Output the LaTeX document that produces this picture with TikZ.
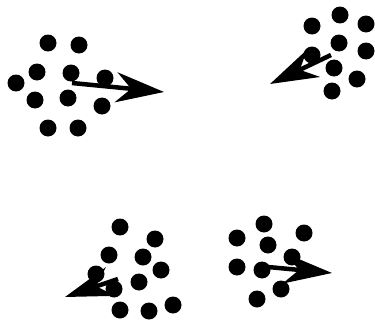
\documentclass[tikz,border=0pt]{standalone}
\usetikzlibrary{arrows.meta}
\begin{document}
\begin{tikzpicture}[x=1pt,y=-1pt,
  dot/.style={circle,fill=black,inner sep=0pt,minimum size=17pt},
  vec/.style={line width=4.5pt,-{Stealth[length=48pt,width=30pt,inset=15pt]}}]
\useasboundingbox (0,0) rectangle (375,324);
% group A (top left)
\foreach \n/\x/\y in {a1/48/43,a2/79/45,a3/37/72,a4/71/73,a5/105/78,a6/16/83,a7/35/100,a8/68/98,a9/102/106,a10/48/128,a11/78/128}
  \node[dot] (\n) at (\x,\y) {};
\coordinate (at) at (72,83);
\coordinate (ah) at (164,92);
\draw[vec] (at) -- (ah);
% group B (top right)
\foreach \n/\x/\y in {b1/340/15,b2/312/26,b3/366/24,b4/339/43,b5/312/55,b6/366/51,b7/334/68,b8/357/79,b9/332/91}
  \node[dot] (\n) at (\x,\y) {};
\coordinate (bt) at (331,55);
\coordinate (bh) at (270,84);
\draw[vec] (bt) -- (bh);
% group C (bottom left)
\foreach \n/\x/\y in {c1/120/227,c2/155/239,c3/109/255,c4/143/257,c5/161/270,c6/96/274,c7/139/282,c8/114/289,c9/120/310,c10/149/311,c11/173/305}
  \node[dot] (\n) at (\x,\y) {};
\coordinate (ct) at (118,279);
\coordinate (ch) at (65,297);
\draw[vec] (ct) -- (ch);
% group D (bottom right)
\foreach \n/\x/\y in {d1/264/224,d2/237/238,d3/304/233,d4/268/245,d5/292/257,d6/237/267,d7/262/270,d8/281/289,d9/257/299}
  \node[dot] (\n) at (\x,\y) {};
\coordinate (dt) at (268,267);
\coordinate (dh) at (332,273);
\draw[vec] (dt) -- (dh);
\end{tikzpicture}
\end{document}
